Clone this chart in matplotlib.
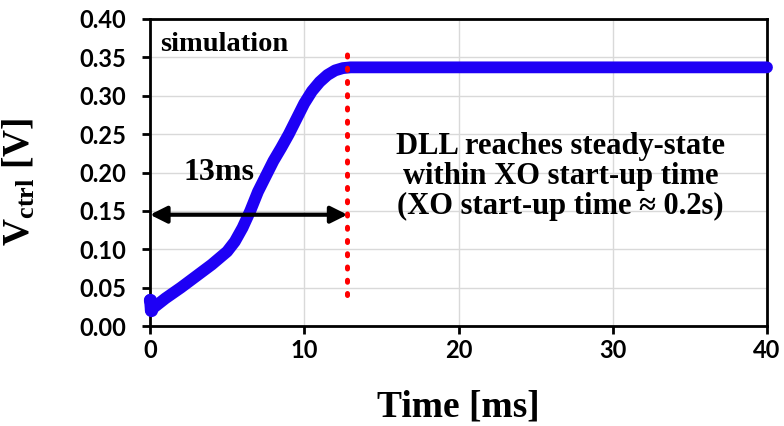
import numpy as np
import matplotlib.pyplot as plt

# Vctrl settling of the DLL
t_ms = [0.0, 0.05, 1.0, 2.0, 3.0, 4.0, 5.0, 5.5, 6.0, 6.5, 7.0, 7.5, 8.0, 8.5, 9.0,
        9.5, 10.0, 10.5, 11.0, 11.5, 12.0, 12.5, 13.0, 14.0, 16.0, 18.0, 20.0,
        22.0, 24.0, 26.0, 28.0, 30.0, 32.0, 34.0, 36.0, 38.0, 40.0]
vctrl = [0.034, 0.021, 0.036, 0.050, 0.065, 0.080, 0.097, 0.110, 0.128, 0.150, 0.175,
         0.195, 0.215, 0.232, 0.250, 0.270, 0.290, 0.306, 0.318, 0.327, 0.333, 0.336,
         0.337, 0.337, 0.337, 0.337, 0.337, 0.337, 0.337, 0.337, 0.337, 0.337,
         0.337, 0.337, 0.337, 0.337, 0.337]

t_lock = 12.8
arrow_y = 0.145
xticks = [0, 10, 20, 30, 40]
yticks = [0.00, 0.05, 0.10, 0.15, 0.20, 0.25, 0.30, 0.35, 0.40]

serif = 'Liberation Serif'
plt.rcParams['mathtext.fontset'] = 'custom'
plt.rcParams['mathtext.bf'] = 'Liberation Serif:bold'
plt.rcParams['mathtext.rm'] = 'Liberation Serif:bold'

fig = plt.figure(figsize=(7.84, 4.26), dpi=100)
ax = fig.add_axes([150/784, 1-326/426, (767-150)/784, (326-19)/426])

ax.plot(t_ms, vctrl, color='#1e00f5', lw=8.5, solid_capstyle='round',
        solid_joinstyle='round', marker='o', ms=8.5, markevery=[0, 1],
        zorder=3, clip_on=False)

ax.plot([t_lock, t_lock], [0.040, 0.363], color='red', lw=3.6,
        linestyle=(0, (0.4, 2.25)), dash_capstyle='round', zorder=4)

ax.annotate('', xy=(0, arrow_y), xytext=(t_lock, arrow_y),
            arrowprops=dict(arrowstyle='<|-|>', color='black', lw=3,
                            mutation_scale=25, shrinkA=0, shrinkB=0), zorder=5)

ax.text(4.5, 0.200, '13ms', fontsize=23, fontweight='bold', family=serif,
        ha='center', va='center')
ax.text(0.65, 0.367, 'simulation', fontsize=20.5, fontweight='bold', family=serif,
        ha='left', va='center')
ax.text(26.6, 0.195, 'DLL reaches steady-state\nwithin XO start-up time\n(XO start-up time ≈ 0.2s)',
        fontsize=22, fontweight='bold', family=[serif, 'DejaVu Serif'],
        ha='center', va='center', linespacing=1.05)

ax.set_xlim(0, 40)
ax.set_ylim(0, 0.40)
ax.set_xticks(xticks)
ax.set_yticks(yticks)
ax.set_xticklabels([str(v) for v in xticks])
ax.set_yticklabels(['%.2f' % v for v in yticks])
for lab in ax.get_xticklabels() + ax.get_yticklabels():
    lab.set_fontfamily('Lato')
    lab.set_fontweight('bold')
    lab.set_fontsize(17)
ax.tick_params(direction='out', length=6, width=2)
ax.tick_params(axis='y', pad=11)
ax.tick_params(axis='x', pad=3)
ax.grid(True, color='#d9d9d9', lw=1)
ax.set_axisbelow(True)
for s in ax.spines.values():
    s.set_linewidth(2)

ax.set_xlabel('Time [ms]', fontsize=27, fontweight='bold', family=serif, labelpad=20)
ax.set_ylabel(r'$\mathbf{V_{ctrl}}$ [V]', fontsize=27, fontweight='bold', family=serif)
ax.yaxis.set_label_coords(-0.182, 0.47)

fig.savefig('out.png', dpi=100)
